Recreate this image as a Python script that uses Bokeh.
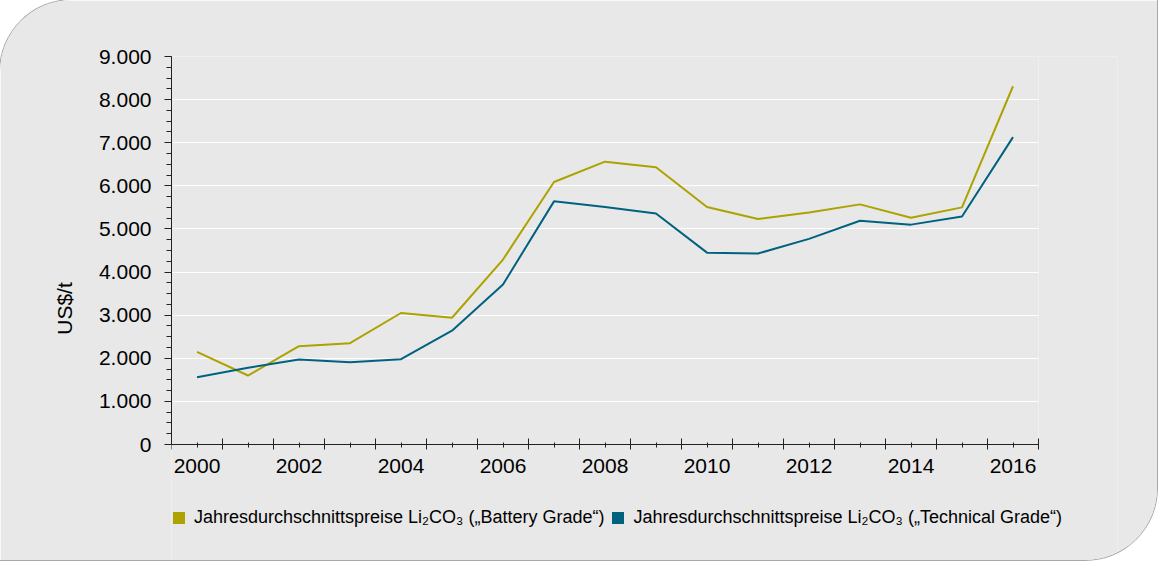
from bokeh.plotting import figure
from bokeh.models import FixedTicker, Legend, LegendItem, ColumnDataSource, BoxAnnotation
from bokeh.embed import file_html
from bokeh.resources import INLINE

years = list(range(2000, 2017))
battery = [2150, 1600, 2280, 2350, 3050, 2940, 4290, 6090, 6560, 6430,
           5510, 5230, 5380, 5570, 5260, 5500, 8310]
technical = [1560, 1780, 1970, 1910, 1980, 2640, 3710, 5640, 5510, 5360,
             4450, 4430, 4770, 5190, 5100, 5290, 7130]
y_ticks = [0, 1000, 2000, 3000, 4000, 5000, 6000, 7000, 8000, 9000]
y_tick_labels = ["0", "1.000", "2.000", "3.000", "4.000", "5.000",
                 "6.000", "7.000", "8.000", "9.000"]
x_tick_labels = {y: (str(y) if y % 2 == 0 else "") for y in years}
label_battery = "Jahresdurchschnittspreise Li\u2082CO\u2083 (\u201eBattery Grade\u201c)"
label_technical = "Jahresdurchschnittspreise Li\u2082CO\u2083 (\u201eTechnical Grade\u201c)"

BG = "#e8e8e8"
OLIVE = "#aca200"
TEAL = "#00627f"
FONT = "Liberation Sans"

W, H = 1157, 560
TOP, LEFT, RIGHT = 56, 171, 40
AXIS_PX_Y = 388          # pixel height of 0..9000
AXIS_PX_X = 867          # pixel width of 1999.5..2016.5
X0, X1 = years[0] - 0.5, years[-1] + 0.5
Y_MAX = 9000
frame_h = H - TOP
frame_w = W - LEFT - RIGHT
y_min = -(frame_h - AXIS_PX_Y) * Y_MAX / AXIS_PX_Y        # room below for legend
x_max = X0 + frame_w * (X1 - X0) / AXIS_PX_X               # room right for legend

p = figure(width=W, height=H, output_backend="svg", toolbar_location=None,
           x_range=(X0, x_max), y_range=(y_min, Y_MAX),
           min_border_left=LEFT, min_border_right=RIGHT,
           min_border_top=TOP, min_border_bottom=0)
p.styles = {"border-top-left-radius": "72px", "border-bottom-right-radius": "72px",
            "overflow": "hidden", "box-shadow": "0 0 0 1px #a8a8a8"}
p.background_fill_color = BG
p.border_fill_color = BG
p.outline_line_color = None

# white frame around plotting area (drawn beneath axes)
p.add_layout(BoxAnnotation(left=X0, right=X1, bottom=0, top=Y_MAX,
                           fill_alpha=0, line_color="white", line_width=1,
                           level="underlay"))

src = ColumnDataSource(dict(year=years, battery=battery, technical=technical))
r1 = p.line("year", "battery", source=src, line_color=OLIVE, line_width=2)
r2 = p.line("year", "technical", source=src, line_color=TEAL, line_width=2)

# hidden bar renderers, used only for the square legend swatches
s1 = p.vbar(x="year", top="battery", source=src, width=0.5,
            fill_color=OLIVE, line_color=None, visible=False)
s2 = p.vbar(x="year", top="technical", source=src, width=0.5,
            fill_color=TEAL, line_color=None, visible=False)

# x axis, fixed at y = 0
xa = p.xaxis[0]
xa.fixed_location = 0
xa.bounds = (X0, X1)
xa.ticker = FixedTicker(ticks=years, minor_ticks=[X0 + i for i in range(18)])
xa.major_label_overrides = x_tick_labels
xa.major_tick_in = 2
xa.major_tick_out = 3
xa.minor_tick_in = 6
xa.minor_tick_out = 5
xa.major_label_standoff = 9
# y axis
ya = p.yaxis[0]
ya.bounds = (0, Y_MAX)
ya.ticker = FixedTicker(ticks=y_ticks, minor_ticks=list(range(0, 9001, 250)))
ya.major_label_overrides = {t: l for t, l in zip(y_ticks, y_tick_labels)}
ya.major_tick_in = 0
ya.major_tick_out = 7
ya.minor_tick_in = 0
ya.minor_tick_out = 5
ya.major_label_standoff = 13
ya.axis_label = "US$/t"
ya.axis_label_standoff = 20

for ax in (xa, ya):
    ax.axis_line_color = "#222222"
    ax.major_tick_line_color = "#222222"
    ax.minor_tick_line_color = "#222222"
    ax.major_label_text_font = FONT
    ax.major_label_text_font_size = "21px"
    ax.major_label_text_color = "black"
    ax.axis_label_text_font = FONT
    ax.axis_label_text_font_size = "21px"
    ax.axis_label_text_font_style = "normal"
    ax.axis_label_text_color = "black"

p.xgrid.visible = False
grid = p.ygrid[0]
if "cross_bounds" in grid.properties():
    grid.ticker = FixedTicker(ticks=y_ticks[1:])
    grid.bounds = (-100000, 100000)
    grid.cross_bounds = (X0, X1)
    grid.grid_line_color = "white"
    grid.grid_line_width = 1
else:
    grid.visible = False
    gsrc = ColumnDataSource(dict(y=y_ticks[1:], x0=[X0] * 9, x1=[X1] * 9))
    p.segment(x0="x0", x1="x1", y0="y", y1="y", source=gsrc,
              line_color="white", line_width=1, level="underlay")

legend = Legend(items=[LegendItem(label=label_battery, renderers=[s1]),
                       LegendItem(label=label_technical, renderers=[s2])],
                orientation="horizontal", location=(0, 32),
                glyph_width=15, glyph_height=15, label_height=15,
                label_standoff=8, spacing=6,
                padding=0, margin=0, background_fill_alpha=0, border_line_alpha=0,
                inactive_fill_alpha=0,
                label_text_font=FONT, label_text_font_size="18px",
                label_text_color="black")
p.add_layout(legend, "center")

open("out.html", "w").write(file_html(p, INLINE))
